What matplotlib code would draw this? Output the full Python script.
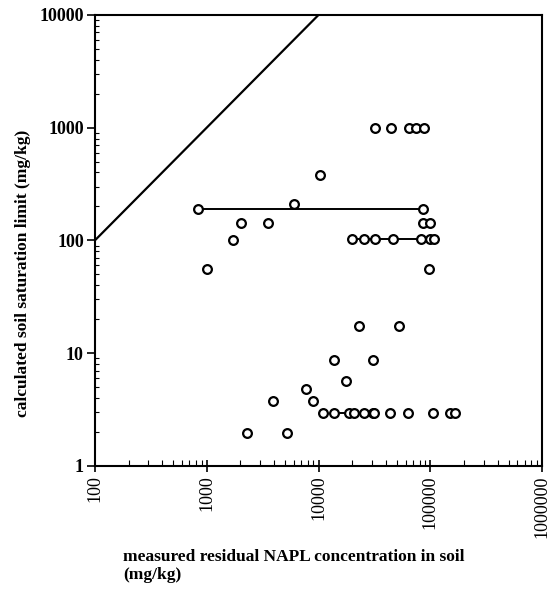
import matplotlib.pyplot as plt
from matplotlib.ticker import LogLocator, FixedLocator, NullFormatter

plt.rcParams['font.family'] = ['Liberation Serif', 'DejaVu Serif']

# measured residual NAPL (mg/kg) vs calculated soil saturation limit (mg/kg)
measured = [32000, 44000, 64000, 75000, 87000,
            10300, 6000,
            840, 85700,
            2010, 3520, 85700, 99800,
            1730,
            20100, 25600, 31900, 46200, 83000, 99800, 107000,
            1010, 98000,
            23200, 52700,
            13600, 30400,
            17700, 7690, 8840, 3900,
            2300, 5170,
            10900, 13600, 18900, 20600, 25600, 30600, 31600, 43200, 63000,
            105000, 151000, 165000]
calculated = [1000, 1000, 1000, 1000, 1000,
              380, 212,
              189, 189,
              143, 143, 143, 143,
              100,
              102, 102, 102, 102, 102, 102, 102,
              55.6, 55.6,
              17.5, 17.5,
              8.7, 8.7,
              5.7, 4.8, 3.8, 3.8,
              1.94, 1.94,
              2.92, 2.92, 2.92, 2.92, 2.92, 2.92, 2.92, 2.92, 2.92,
              2.92, 2.92, 2.92]

# ranges joined by a horizontal line
range_x = [[840, 85700], [20100, 83000], [13600, 18900]]
range_y = [189, 102, 2.92]

# 1:1 line
one_to_one = [100, 10000]

fig = plt.figure(figsize=(5.55, 5.95), dpi=100)
ax = fig.add_axes([0.171, 0.217, 0.806, 0.758])

ax.plot(one_to_one, one_to_one, color='black', lw=1.6)
for xs, y in zip(range_x, range_y):
    ax.plot(xs, [y, y], color='black', lw=1.4)
ax.plot(measured, calculated, 'o', mfc='white', mec='black', ms=6.3, mew=1.6)

ax.set_xscale('log')
ax.set_yscale('log')
ax.set_xlim(100, 1e6)
ax.set_ylim(1, 1e4)

xt = [100, 1000, 10000, 100000, 1000000]
yt = [1, 10, 100, 1000, 10000]
ax.xaxis.set_major_locator(FixedLocator(xt))
ax.yaxis.set_major_locator(FixedLocator(yt))
ax.set_xticklabels([str(v) for v in xt], rotation=90, fontsize=13)
ax.set_yticklabels([str(v) for v in yt], fontsize=13, fontweight='bold')
ax.xaxis.set_minor_locator(LogLocator(base=10, subs=range(2, 10)))
ax.yaxis.set_minor_locator(LogLocator(base=10, subs=range(2, 10)))
ax.xaxis.set_minor_formatter(NullFormatter())
ax.yaxis.set_minor_formatter(NullFormatter())

ax.tick_params(axis='x', which='major', direction='inout', length=8, width=1.2, pad=3)
ax.tick_params(axis='x', which='minor', direction='in', length=4, width=0.8)
ax.tick_params(axis='y', which='major', direction='out', length=6, width=1.2, pad=2)
ax.tick_params(axis='y', which='minor', direction='in', length=3, width=0.8)
for s in ax.spines.values():
    s.set_linewidth(1.5)

fig.text(0.042, 0.54, 'calculated soil saturation limit (mg/kg)', fontsize=12.5,
         fontweight='bold', rotation=90, ha='center', va='center')
fig.text(0.222, 0.078, 'measured residual NAPL concentration in soil\n(mg/kg)',
         fontsize=12.5, fontweight='bold', ha='left', va='top', linespacing=1.2)

fig.savefig('out.png', dpi=100)
